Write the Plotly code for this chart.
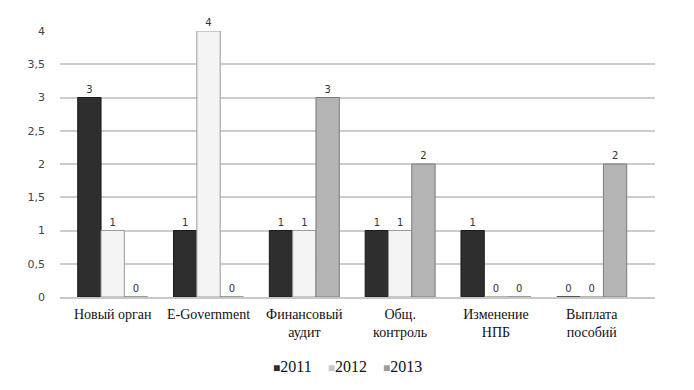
import plotly.graph_objects as go

categories = ["Новый орган", "E-Government", "Финансовый<br>аудит", "Общ.<br>контроль", "Изменение<br>НПБ", "Выплата<br>пособий"]
years = ["2011", "2012", "2013"]
v2011 = [3, 1, 1, 1, 1, 0]
v2012 = [1, 4, 1, 1, 0, 0]
v2013 = [0, 0, 3, 2, 0, 2]
series = [v2011, v2012, v2013]
y_ticks = [0, 0.5, 1, 1.5, 2, 2.5, 3, 3.5, 4]
y_tick_labels = ["0", "0,5", "1", "1,5", "2", "2,5", "3", "3,5", "4"]

fills = ["#2e2e2e", "#f4f4f4", "#b4b4b4"]
lines = ["#1a1a1a", "#9a9a9a", "#7a7a7a"]
legend_sym = ["#2e2e2e", "#c8c8c8", "#9a9a9a"]

fig = go.Figure()
for name, vals, fc, lc in zip(years, series, fills, lines):
    fig.add_trace(go.Bar(
        x=categories, y=vals, name=name,
        marker=dict(color=fc, line=dict(color=lc, width=1)),
        text=[str(v) for v in vals], textposition="outside",
        textfont=dict(family="DejaVu Sans", size=10, color="#333333"),
        cliponaxis=False, showlegend=False,
    ))

legend_text = "&nbsp;&nbsp;&nbsp;&nbsp;".join(
    f"<span style='color:{c};font-size:12px'>■</span>{y}" for y, c in zip(years, legend_sym)
)
fig.add_annotation(
    text=legend_text, xref="paper", yref="paper", x=0.483, y=-0.263,
    xanchor="center", yanchor="middle", showarrow=False,
    font=dict(family="Liberation Serif", size=16, color="#111111"),
)

fig.update_layout(
    width=694, height=390,
    paper_bgcolor="white", plot_bgcolor="white",
    margin=dict(l=52, r=47, t=23, b=101, autoexpand=False),
    barmode="group", bargap=0.27, bargroupgap=0,
)
fig.update_xaxes(
    range=[-0.55, 5.66],
    tickfont=dict(family="Liberation Serif", size=14, color="#111111"),
    showgrid=False, showline=True, linecolor="#c8c8c8", linewidth=2,
    ticks="", tickangle=0, ticklabelstandoff=3,
)
fig.update_yaxes(
    range=[0, 4], tickvals=y_ticks, ticktext=y_tick_labels,
    tickfont=dict(family="DejaVu Sans", size=11, color="#444444"),
    showgrid=True, gridcolor="#cccccc", gridwidth=1.5,
    zeroline=False, showline=False, ticks="", ticklen=0,
    ticklabelstandoff=14,
)

fig.write_html("out.html")
